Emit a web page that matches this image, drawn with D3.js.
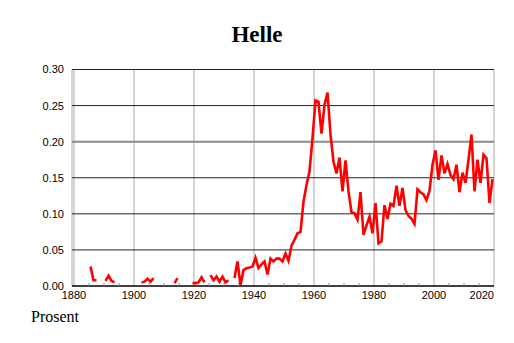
<!DOCTYPE html>
<html>
<head>
<meta charset="utf-8">
<script src="https://cdn.jsdelivr.net/npm/d3@7"></script>
<style>
    body { margin: 0; background: #fff; }
    svg { display: block; }
</style>
</head>
<body>
<div id="chart"></div>
<script>
// name share per year (percent), null = no data for that year
var firstYear = 1885;
var share = [
    0.027, 0.008, 0.008, null, null,                                    // 1885-1889
    0.007, 0.014, 0.007, 0.005, null, null, null, null, null, null,     // 1890-1899
    null, null, 0.005, 0.006, 0.010, 0.006, 0.011, null, null, null,    // 1900-1909
    null, null, null, 0.004, 0.011, null, null, null, null, 0.004,      // 1910-1919
    0.004, 0.005, 0.012, 0.005, null, 0.015, 0.008, 0.013, 0.006, 0.013,// 1920-1929
    0.005, 0.008, null, 0.011, 0.034, 0.001, 0.022, 0.0245, 0.0255, 0.027, // 1930-1939
    0.039, 0.025, 0.030, 0.034, 0.016, 0.038, 0.034, 0.038, 0.038, 0.034, // 1940-1949
    0.045, 0.035, 0.056, 0.064, 0.073, 0.075, 0.117, 0.140, 0.159, 0.205, // 1950-1959
    0.257, 0.255, 0.211, 0.251, 0.268, 0.210, 0.172, 0.156, 0.178, 0.131, // 1960-1969
    0.174, 0.131, 0.102, 0.101, 0.092, 0.130, 0.071, 0.084, 0.096, 0.073, // 1970-1979
    0.115, 0.059, 0.062, 0.112, 0.093, 0.114, 0.111, 0.139, 0.111, 0.136, // 1980-1989
    0.105, 0.097, 0.093, 0.086, 0.134, 0.130, 0.127, 0.119, 0.132, 0.168, // 1990-1999
    0.188, 0.147, 0.181, 0.156, 0.169, 0.154, 0.148, 0.168, 0.130, 0.157, // 2000-2009
    0.143, 0.175, 0.210, 0.131, 0.175, 0.143, 0.182, 0.177, 0.115, 0.148  // 2010-2019
];
var xTicks = [1880, 1900, 1920, 1940, 1960, 1980, 2000, 2020];
var xMinorTicks = [1885, 1890, 1895, 1905, 1910, 1915, 1925, 1930, 1935, 1945, 1950, 1955,
    1965, 1970, 1975, 1985, 1990, 1995, 2005, 2010, 2015];
var yTicks = [0, 0.05, 0.10, 0.15, 0.20, 0.25, 0.30];
var highlightTick = 0.20;

var width = 514, height = 343;
var plotLeft = 72, plotRight = 494, plotTop = 69.5, plotBottom = 286;

var svg = d3.select("#chart").append("svg")
    .attr("width", width)
    .attr("height", height);

var x = d3.scaleLinear().domain([1880, 2020]).range([74, plotRight]);
var y = d3.scaleLinear().domain([0, 0.30]).range([plotBottom, plotTop]);

var data = share.map(function(v, i) {
    return { year: firstYear + i, value: v };
});

// title
svg.append("text")
    .attr("x", 257)
    .attr("y", 42)
    .attr("text-anchor", "middle")
    .style("font-family", "'Liberation Serif', 'Times New Roman', serif")
    .style("font-weight", "bold")
    .style("font-size", "23px")
    .text("Helle");

// vertical grid lines
svg.append("line")
    .attr("x1", plotLeft).attr("x2", plotLeft)
    .attr("y1", plotTop).attr("y2", plotBottom)
    .attr("stroke", "#aaa").attr("stroke-width", 1);

svg.selectAll(".vgrid")
    .data(xTicks)
    .enter().append("line")
    .attr("class", "vgrid")
    .attr("x1", function(d) { return x(d); })
    .attr("x2", function(d) { return x(d); })
    .attr("y1", plotTop)
    .attr("y2", plotBottom)
    .attr("stroke", "#aaa")
    .attr("stroke-width", 1);

// horizontal grid lines, 0.20 drawn grey and heavier
svg.selectAll(".hgrid")
    .data(yTicks.filter(function(d) { return d > 0; }))
    .enter().append("line")
    .attr("class", "hgrid")
    .attr("x1", plotLeft)
    .attr("x2", plotRight)
    .attr("y1", function(d) { return y(d); })
    .attr("y2", function(d) { return y(d); })
    .attr("stroke", function(d) { return d === highlightTick ? "#8a8a8a" : "#222"; })
    .attr("stroke-width", function(d) { return d === highlightTick ? 2 : 1; });

// y labels
svg.selectAll(".ylab")
    .data(yTicks)
    .enter().append("text")
    .attr("class", "ylab")
    .attr("x", 64)
    .attr("y", function(d) { return y(d); })
    .attr("dy", "0.36em")
    .attr("text-anchor", "end")
    .style("font-family", "'Liberation Sans', Arial, sans-serif")
    .style("font-size", "11px")
    .text(d3.format(".2f"));

// x axis line + minor ticks
svg.append("line")
    .attr("x1", plotLeft).attr("x2", plotRight)
    .attr("y1", plotBottom).attr("y2", plotBottom)
    .attr("stroke", "#000").attr("stroke-width", 1.5);

svg.selectAll(".xminor")
    .data(xMinorTicks)
    .enter().append("line")
    .attr("class", "xminor")
    .attr("x1", function(d) { return x(d); })
    .attr("x2", function(d) { return x(d); })
    .attr("y1", plotBottom)
    .attr("y2", plotBottom - 3)
    .attr("stroke", "#888")
    .attr("stroke-width", 1);

svg.selectAll(".xlab")
    .data(xTicks)
    .enter().append("text")
    .attr("class", "xlab")
    .attr("x", function(d) { return x(d); })
    .attr("y", 299)
    .attr("text-anchor", function(d, i) { return i === xTicks.length - 1 ? "end" : "middle"; })
    .style("font-family", "'Liberation Sans', Arial, sans-serif")
    .style("font-size", "11px")
    .text(function(d) { return d; });

// the series (gaps where there is no data)
var line = d3.line()
    .defined(function(d) { return d.value !== null; })
    .x(function(d) { return x(d.year + 0.5); })
    .y(function(d) { return y(d.value); });

svg.append("path")
    .datum(data)
    .attr("fill", "none")
    .attr("stroke", "#ff0000")
    .attr("stroke-width", 2.6)
    .attr("stroke-linejoin", "miter")
    .attr("d", line);

// unit label
svg.append("text")
    .attr("x", 31)
    .attr("y", 322)
    .style("font-family", "'Liberation Serif', 'Times New Roman', serif")
    .style("font-size", "16px")
    .text("Prosent");
</script>
</body>
</html>
